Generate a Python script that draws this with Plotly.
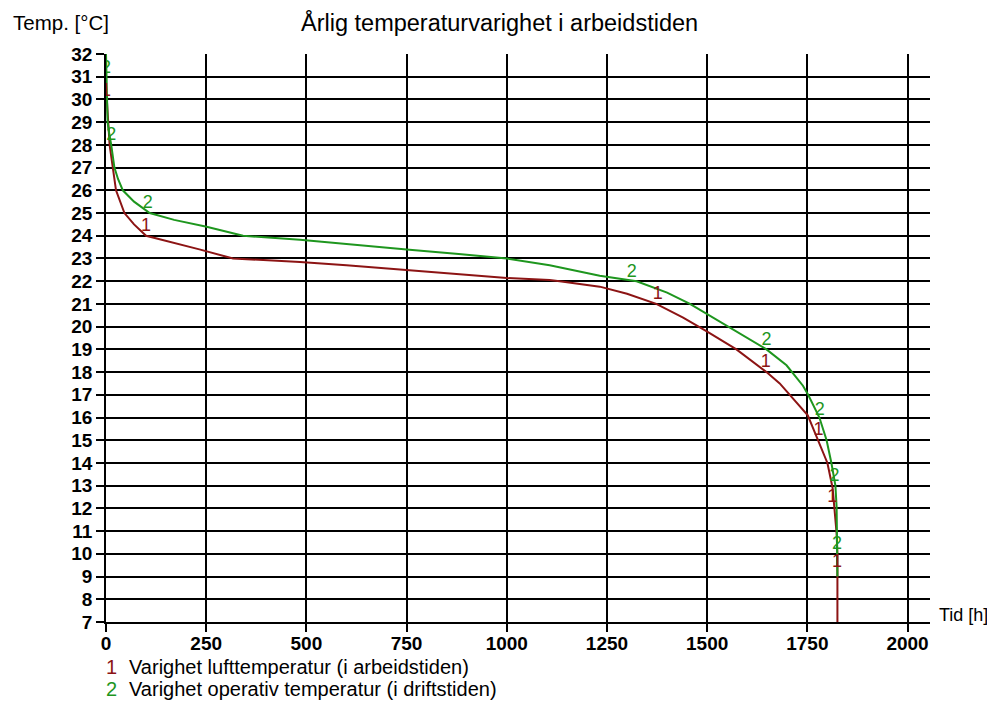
import plotly.graph_objects as go

# Series 1: Varighet lufttemperatur (i arbeidstiden)
hours_1 = [0, 2, 9, 17, 25, 46, 70, 100, 170, 233, 317, 400, 484, 600, 750, 880, 1000,
           1107, 1132, 1232, 1300, 1373, 1440, 1498, 1573, 1648, 1681, 1751, 1780,
           1800, 1813, 1818, 1823, 1825, 1825]
temp_1 = [30.6, 30.0, 28.0, 27.0, 26.0, 25.0, 24.5, 24.0, 23.7, 23.4, 23.0, 22.92, 22.85,
          22.7, 22.5, 22.32, 22.14, 22.05, 22.0, 21.76, 21.45, 21.0, 20.4, 19.8, 19.0,
          18.0, 17.5, 16.1, 14.9, 14.0, 12.9, 11.8, 10.9, 10.0, 7.0]

# Series 2: Varighet operativ temperatur (i driftstiden)
hours_2 = [0, 1, 4, 8, 13, 21, 30, 42, 70, 109, 170, 251, 342, 484, 600, 750, 880, 1000,
           1107, 1232, 1324, 1400, 1457, 1553, 1648, 1698, 1739, 1752, 1780, 1798,
           1810, 1820, 1823, 1825]
temp_2 = [32.0, 31.0, 29.0, 28.5, 28.0, 27.0, 26.5, 26.0, 25.5, 25.0, 24.7, 24.4, 24.0,
          23.82, 23.65, 23.4, 23.2, 23.0, 22.7, 22.24, 22.0, 21.5, 21.0, 20.0, 19.0,
          18.3, 17.4, 17.0, 16.0, 15.0, 14.0, 13.0, 12.05, 9.0]

# Curve label positions ("1" / "2" markers along curves)
label_hours_1 = [0, 100, 1377, 1646, 1778, 1812, 1824]
label_temp_1 = [30.35, 24.4, 21.4, 18.4, 15.45, 12.5, 9.6]
label_hours_2 = [0, 13, 104, 1312, 1648, 1781, 1818, 1824]
label_temp_2 = [31.35, 28.4, 25.4, 22.4, 19.4, 16.3, 13.4, 10.4]

x_ticks = [0, 250, 500, 750, 1000, 1250, 1500, 1750, 2000]
y_ticks = list(range(7, 33))

title_text = "Årlig temperaturvarighet i arbeidstiden"
name_1 = "Varighet lufttemperatur (i arbeidstiden)"
name_2 = "Varighet operativ temperatur (i driftstiden)"

RED = "#8c1414"
GREEN = "#1e961e"
FONT = "Liberation Sans, Arial, sans-serif"

fig = go.Figure()
fig.add_trace(go.Scatter(x=hours_1, y=temp_1, mode="lines", line=dict(color=RED, width=2),
                         name=name_1, showlegend=False))
fig.add_trace(go.Scatter(x=hours_2, y=temp_2, mode="lines", line=dict(color=GREEN, width=2),
                         name=name_2, showlegend=False))
fig.add_trace(go.Scatter(x=label_hours_1, y=label_temp_1, mode="text",
                         text=["1"] * len(label_hours_1),
                         textfont=dict(color=RED, size=18, family=FONT), showlegend=False))
fig.add_trace(go.Scatter(x=label_hours_2, y=label_temp_2, mode="text",
                         text=["2"] * len(label_hours_2),
                         textfont=dict(color=GREEN, size=18, family=FONT), showlegend=False))

# The page body adds an 8px offset; screen-pixel targets are converted accordingly.
OFF = 8
W, H = 995, 704
L_SCR, T_SCR = 106, 54          # plot-area top-left on screen
PW, PH = 824, 568               # plot-area size
L, T = L_SCR - OFF, T_SCR - OFF
R, B = W - L - PW, H - T - PH

fig.update_layout(
    width=W, height=H,
    margin=dict(l=L, r=R, t=T, b=B, autoexpand=False),
    paper_bgcolor="white", plot_bgcolor="white",
    font=dict(family=FONT, color="black"),
    xaxis=dict(range=[0, 2056], tickvals=x_ticks, showgrid=True, gridcolor="black",
               gridwidth=1.5, zeroline=False, showline=True, linecolor="black", linewidth=1.5,
               ticks="outside", ticklen=8, tickcolor="black", tickwidth=1.5,
               ticklabelstandoff=-5,
               tickfont=dict(size=19, family="Liberation Sans", weight="bold")),
    yaxis=dict(range=[7, 32], tickvals=y_ticks, showgrid=True, gridcolor="black",
               gridwidth=1.5, zeroline=False, showline=True, linecolor="black", linewidth=1.5,
               ticks="outside", ticklen=8, tickcolor="black", tickwidth=1.5,
               tickfont=dict(size=19, family="Liberation Sans", weight="bold")),
)


def px(xp):
    return (xp - L_SCR) / PW


def py(yp):
    return 1 - (yp - T_SCR) / PH


ann = [
    dict(text=title_text, x=px(499), y=py(23), font=dict(size=23.5, family=FONT),
         xanchor="center", yanchor="middle"),
    dict(text="Temp. [°C]", x=px(11), y=py(22), font=dict(size=20.5, family=FONT),
         xanchor="left", yanchor="middle"),
    dict(text="Tid [h]", x=px(937), y=py(615), font=dict(size=18, family=FONT),
         xanchor="left", yanchor="middle"),
    dict(text="1", x=px(104), y=py(667), font=dict(size=20, family=FONT, color=RED),
         xanchor="left", yanchor="middle"),
    dict(text=name_1, x=px(127), y=py(667), font=dict(size=20, family=FONT),
         xanchor="left", yanchor="middle"),
    dict(text="2", x=px(104), y=py(689), font=dict(size=20, family=FONT, color=GREEN),
         xanchor="left", yanchor="middle"),
    dict(text=name_2, x=px(127), y=py(689), font=dict(size=20, family=FONT),
         xanchor="left", yanchor="middle"),
]
for a in ann:
    a.update(xref="paper", yref="paper", showarrow=False)
fig.update_layout(annotations=ann)

fig.write_html("out.html")
